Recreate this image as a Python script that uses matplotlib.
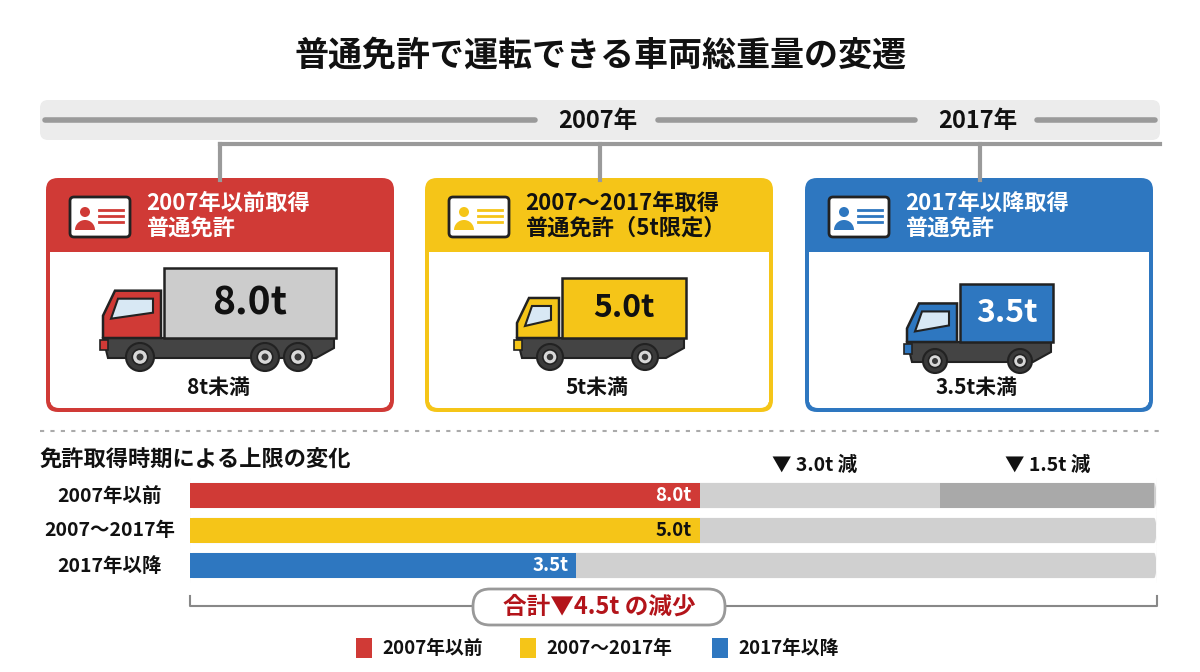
import matplotlib
matplotlib.use("Agg")
import matplotlib.pyplot as plt
from matplotlib.patches import FancyBboxPatch, Rectangle, Circle, Polygon, Wedge

plt.rcParams['font.family'] = ['Noto Sans CJK JP', 'DejaVu Sans']

# ── DATA ─────────────────────────────────────────────
periods = ['2007年以前', '2007〜2017年', '2017年以降']
card_titles = ['2007年以前取得\n普通免許', '2007〜2017年取得\n普通免許（5t限定）', '2017年以降取得\n普通免許']
weights = [8.0, 5.0, 3.5]
weight_labels = ['8.0t', '5.0t', '3.5t']
limit_labels = ['8t未満', '5t未満', '3.5t未満']
# bar lengths as drawn in the picture (% of full track)
bar_share = [52.7, 52.7, 39.9]
drop_labels = ['▼ 3.0t 減', '▼ 1.5t 減']
total_label = '合計▼4.5t の減少'
years = ['2007年', '2017年']

RED, YEL, BLU = '#d03a36', '#f5c518', '#2e77c0'
colors = [RED, YEL, BLU]
head_txt = ['white', '#111111', 'white']
DARK = '#222222'

fig = plt.figure(figsize=(12, 6.72), dpi=100)
ax = fig.add_axes([0, 0, 1, 1])
ax.set_xlim(0, 1200)
ax.set_ylim(672, 0)
ax.axis('off')

ax.text(600, 55, '普通免許で運転できる車両総重量の変遷', ha='center', va='center',
        fontsize=24.5, fontweight='bold', color='#111111')

# ── timeline ──
ax.add_patch(FancyBboxPatch((40, 100), 1120, 40, boxstyle='round,pad=0,rounding_size=8',
                            fc='#ececec', ec='none'))
ax.plot([45, 535], [120, 120], color='#9a9a9a', lw=4, solid_capstyle='round')
ax.plot([658, 915], [120, 120], color='#9a9a9a', lw=4, solid_capstyle='round')
ax.plot([1037, 1155], [120, 120], color='#9a9a9a', lw=4, solid_capstyle='round')
ax.text(598, 121, years[0], ha='center', va='center', fontsize=17, fontweight='bold', color='#111')
ax.text(978, 121, years[1], ha='center', va='center', fontsize=17, fontweight='bold', color='#111')
ax.plot([220, 1160], [144, 144], color='#9a9a9a', lw=3)
for cx in [220, 600, 980]:
    ax.plot([cx, cx], [144, 180], color='#9a9a9a', lw=3)


def truck(x0, cab_w, box_w, box_top, bottom, col, body, label, wheel_xs, r, fs):
    cab_top = box_top + 0.27 * (bottom - box_top)
    bx = x0 + cab_w + 3
    # chassis
    ax.add_patch(Polygon([(x0, bottom - 14), (bx + box_w - 2, bottom - 14),
                          (bx + box_w - 2, bottom - 4), (bx + box_w - 20, bottom + 6),
                          (x0 + 5, bottom + 6)], closed=True, fc='#444444', ec=DARK, lw=1.5, zorder=3))
    # cab
    ax.add_patch(Polygon([(x0, bottom - 14), (x0, cab_top + 25), (x0 + 12, cab_top),
                          (x0 + cab_w, cab_top), (x0 + cab_w, bottom - 14)],
                         closed=True, fc=col, ec=DARK, lw=1.8, zorder=4))
    ax.add_patch(Polygon([(x0 + 8, cab_top + 28), (x0 + 15, cab_top + 8),
                          (x0 + cab_w - 8, cab_top + 8), (x0 + cab_w - 8, cab_top + 22)],
                         closed=True, fc='#d8e8f4', ec=DARK, lw=1.5, zorder=5))
    ax.add_patch(Rectangle((x0 - 3, bottom - 12), 8, 10, fc=col, ec=DARK, lw=1.2, zorder=5))
    # cargo box
    ax.add_patch(Rectangle((bx, box_top), box_w, bottom - 14 - box_top, fc=body, ec=DARK, lw=1.8, zorder=4))
    ax.text(bx + box_w / 2, box_top + (bottom - 14 - box_top) / 2, label, ha='center', va='center',
            fontsize=fs, fontweight='bold', color='white' if body == BLU else '#111', zorder=6)
    for wx in wheel_xs:
        ax.add_patch(Circle((wx, bottom + 5), r, fc='#3a3a3a', ec=DARK, lw=1.5, zorder=6))
        ax.add_patch(Circle((wx, bottom + 5), r * 0.55, fc='#d8d8d8', ec=DARK, lw=1.2, zorder=7))
        ax.add_patch(Circle((wx, bottom + 5), r * 0.25, fc='#3a3a3a', ec='none', zorder=8))


def license_icon(x, y, col):
    ax.add_patch(FancyBboxPatch((x, y), 60, 40, boxstyle='round,pad=0,rounding_size=4',
                                fc='white', ec=DARK, lw=2, zorder=5))
    ax.add_patch(Circle((x + 15, y + 15), 5, fc=col, ec='none', zorder=6))
    ax.add_patch(Wedge((x + 15, y + 33), 10, 180, 360, fc=col, ec='none', zorder=6))
    for k in range(3):
        ax.plot([x + 29, x + 53], [y + 13 + k * 6, y + 13 + k * 6], color=col, lw=2, zorder=6)


card_x = [46, 425, 805]
card_w = 348
for i in range(3):
    x = card_x[i]
    ax.add_patch(FancyBboxPatch((x, 178), card_w, 234, boxstyle='round,pad=0,rounding_size=12',
                                fc=colors[i], ec='none', zorder=1))
    ax.add_patch(Rectangle((x + 4, 252), card_w - 8, 150, fc='white', ec='none', zorder=2))
    ax.add_patch(FancyBboxPatch((x + 4, 252), card_w - 8, 156, boxstyle='round,pad=0,rounding_size=9',
                                fc='white', ec='none', zorder=2))
    license_icon(x + 24, 197, colors[i])
    ax.text(x + 100, 216, card_titles[i], ha='left', va='center', fontsize=16,
            fontweight='bold', color=head_txt[i], linespacing=1.1, zorder=6)
    ax.text(x + card_w / 2 - 2, 388, limit_labels[i], ha='center', va='center',
            fontsize=15, fontweight='bold', color='#111', zorder=6)

truck(103, 58, 172, 268, 352, RED, '#cccccc', weight_labels[0], [140, 265, 298], 14, 28)
truck(517, 42, 124, 278, 352, YEL, YEL, weight_labels[1], [550, 645], 13, 23)
truck(907, 50, 93, 284, 356, BLU, BLU, weight_labels[2], [935, 1020], 12, 23)

# separator
ax.plot([40, 1160], [431, 431], color='#aaaaaa', lw=1.5, ls=(0, (2, 3)))

# ── bar section ──
ax.text(40, 460, '免許取得時期による上限の変化', ha='left', va='center', fontsize=16,
        fontweight='bold', color='#111')
ax.text(815, 465, drop_labels[0], ha='center', va='center', fontsize=14, fontweight='bold', color='#111')
ax.text(1048, 465, drop_labels[1], ha='center', va='center', fontsize=14, fontweight='bold', color='#111')

bx = fig.add_axes([190 / 1200, 1 - 583 / 672, 967 / 1200, 105 / 672])
bx.set_xlim(0, 100)
bx.set_ylim(2.5, -0.5)
bx.axis('off')
bh = 0.72
for i in range(3):
    bx.add_patch(FancyBboxPatch((0, i - bh / 2), 100, bh, boxstyle='round,pad=0,rounding_size=0.3',
                                fc='#d0d0d0', ec='none', mutation_aspect=3))
bx.add_patch(Rectangle((77.6, -bh / 2), 22.1, bh, fc='#a9a9a9', ec='none'))
bx.barh(range(3), bar_share, height=bh, color=colors, zorder=3)
for i in range(3):
    bx.text(bar_share[i] - 0.8, i, weight_labels[i], ha='right', va='center', fontsize=13.5,
            fontweight='bold', color='#111' if i == 1 else 'white', zorder=4)
for i, p in enumerate(periods):
    ax.text(110, 496 + 35 * i, p, ha='center', va='center', fontsize=14, fontweight='bold', color='#111')

# bracket + total
ax.plot([190, 190, 1157, 1157], [596, 606, 606, 596], color='#888888', lw=1.5)
ax.add_patch(FancyBboxPatch((473, 589), 252, 36, boxstyle='round,pad=0,rounding_size=17',
                            fc='white', ec='#999999', lw=2, zorder=5))
ax.text(599, 607, total_label, ha='center', va='center', fontsize=17, fontweight='bold',
        color='#b3141a', zorder=6)

# legend
leg_x = [356, 520, 712]
for i in range(3):
    ax.add_patch(Rectangle((leg_x[i], 638), 16, 20, fc=colors[i], ec='none'))
    ax.text(leg_x[i] + 26, 648, periods[i], ha='left', va='center', fontsize=13.5,
            fontweight='bold', color='#111')

fig.savefig('out.png', dpi=100, facecolor='white')
